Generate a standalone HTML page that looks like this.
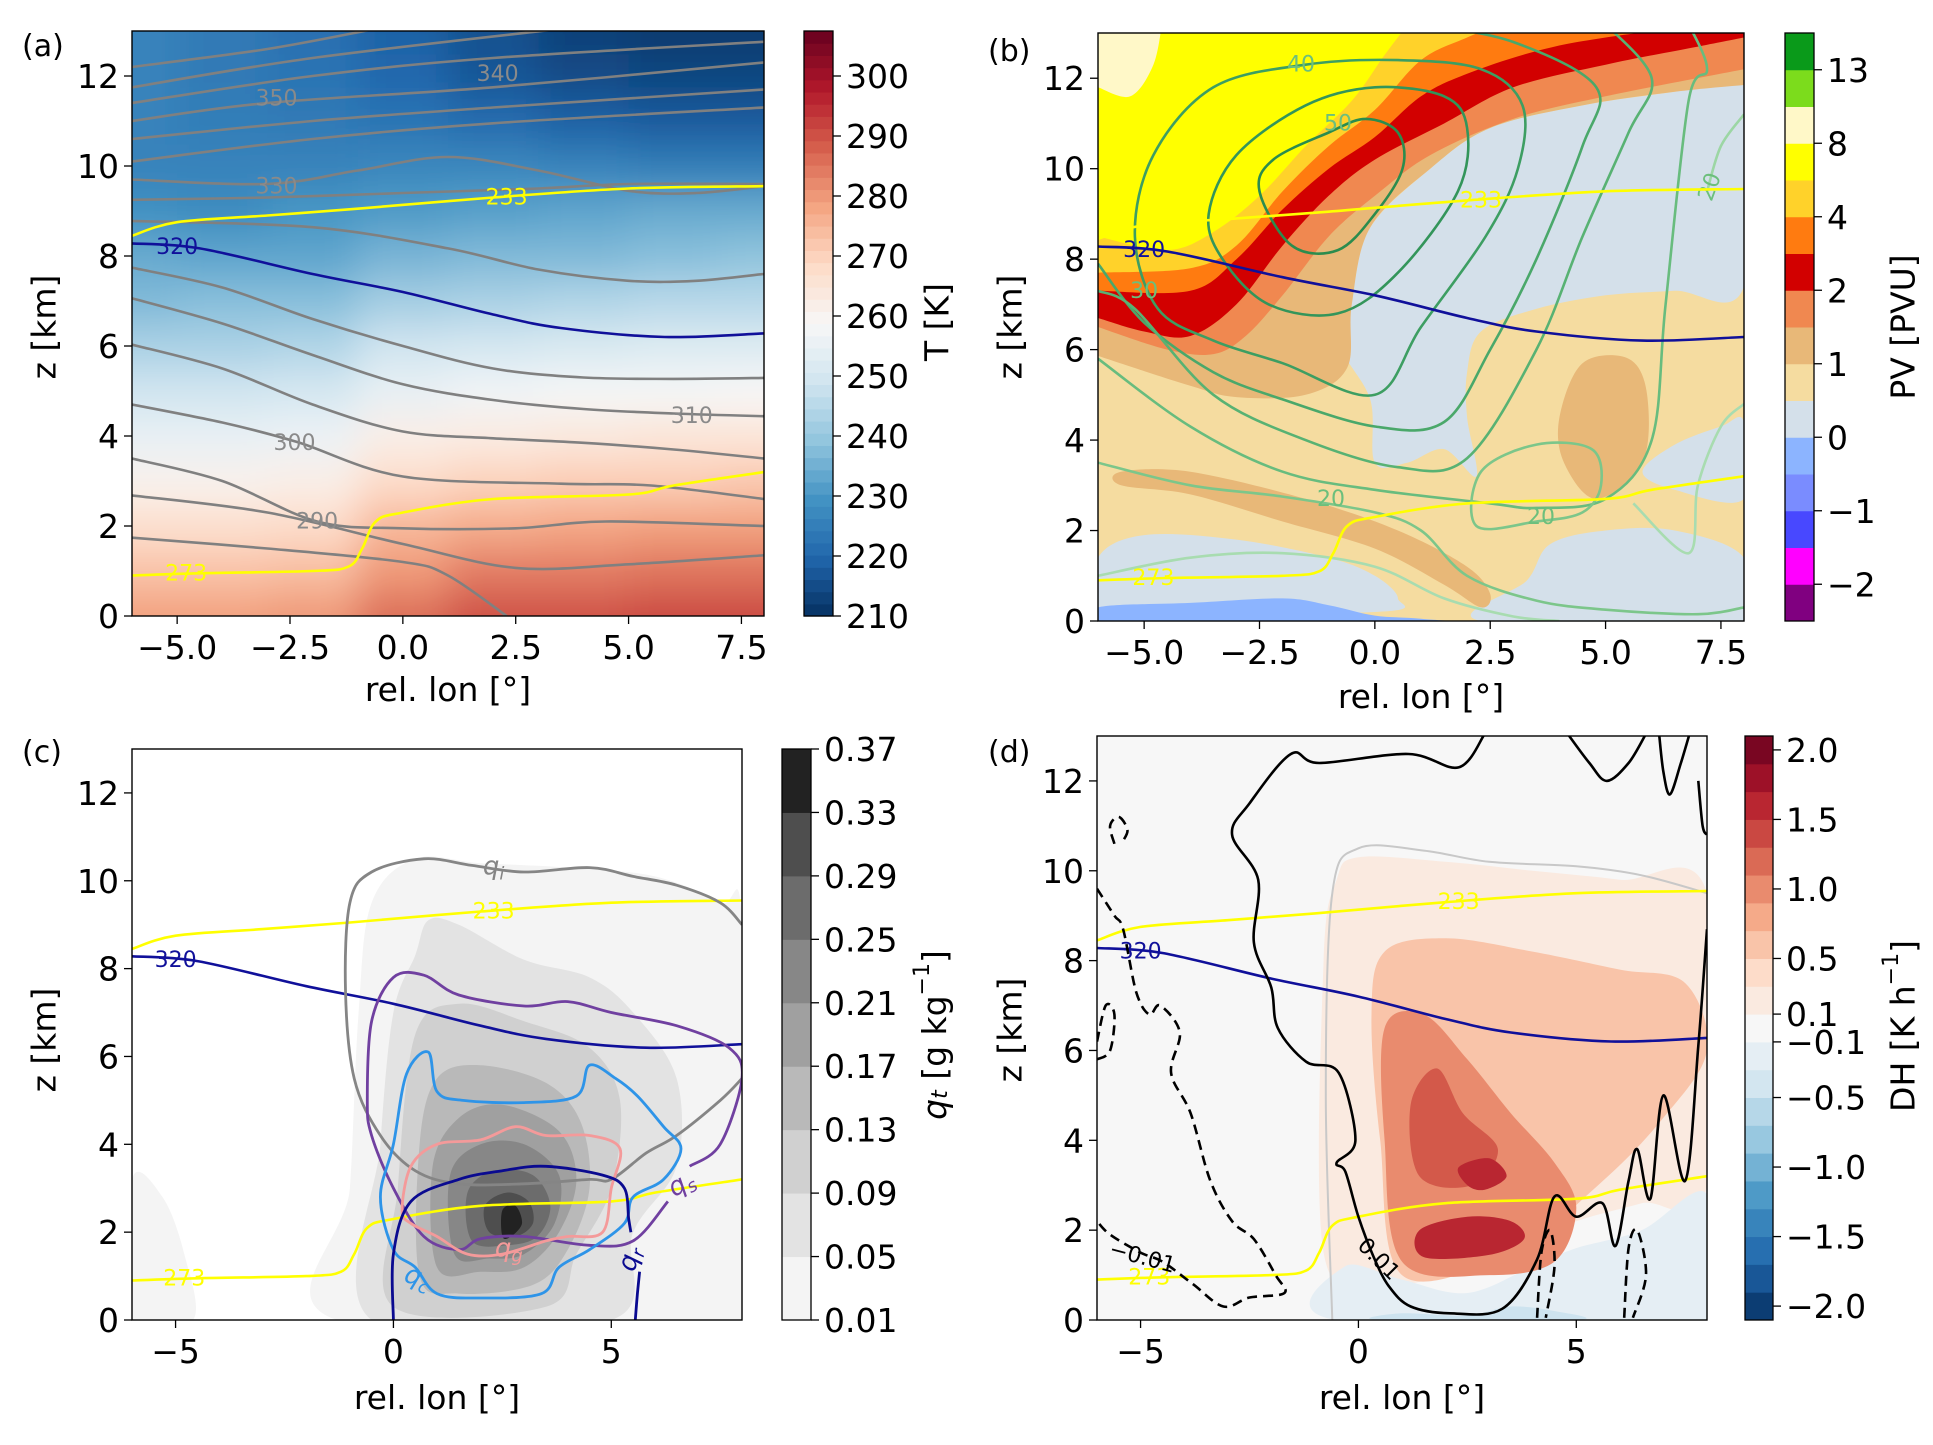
<!DOCTYPE html>
<html><head><meta charset="utf-8">
<style>
html,body{margin:0;padding:0;background:#fff;overflow:hidden;}
svg{display:block;font-family:"DejaVu Sans","Liberation Sans",sans-serif;}
</style></head>
<body>
<svg id="fig" width="1933" height="1445" viewBox="0 0 1933 1445" xmlns="http://www.w3.org/2000/svg">
<defs>
<filter id="blurA" x="-10%" y="-10%" width="120%" height="120%"><feGaussianBlur stdDeviation="18"/></filter>
<clipPath id="clipA"><rect x="132" y="31" width="632" height="585"/></clipPath>
<clipPath id="clipB"><rect x="1098" y="33" width="646" height="588"/></clipPath>
<clipPath id="clipC"><rect x="132" y="749" width="610" height="571"/></clipPath>
<clipPath id="clipD"><rect x="1097" y="736" width="610" height="584"/></clipPath>
</defs>
<rect x="0" y="0" width="1933" height="1445" fill="#fff"/>
<g id="root"></g>
<g font-family="DejaVu Sans, Liberation Sans, sans-serif" fill="#000">
<text x="22" y="56" font-size="30">(a)</text>
<text x="988" y="61" font-size="30">(b)</text>
<text x="22" y="762" font-size="30">(c)</text>
<text x="988" y="762" font-size="30">(d)</text>
<text x="448" y="701" font-size="33" text-anchor="middle">rel. lon [°]</text>
<text x="1421" y="708" font-size="33" text-anchor="middle">rel. lon [°]</text>
<text x="437" y="1409" font-size="33" text-anchor="middle">rel. lon [°]</text>
<text x="1402" y="1409" font-size="33" text-anchor="middle">rel. lon [°]</text>
<text transform="translate(44,327) rotate(-90)" font-size="33" text-anchor="middle" dominant-baseline="central">z [km]</text>
<text transform="translate(1010,327) rotate(-90)" font-size="33" text-anchor="middle" dominant-baseline="central">z [km]</text>
<text transform="translate(44,1040) rotate(-90)" font-size="33" text-anchor="middle" dominant-baseline="central">z [km]</text>
<text transform="translate(1010,1030) rotate(-90)" font-size="33" text-anchor="middle" dominant-baseline="central">z [km]</text>
<text transform="translate(937,322) rotate(-90)" font-size="33" text-anchor="middle" dominant-baseline="central">T [K]</text>
<text transform="translate(1903,327) rotate(-90)" font-size="33" text-anchor="middle" dominant-baseline="central">PV [PVU]</text>
<text transform="translate(934,1035) rotate(-90)" font-size="33" text-anchor="middle" dominant-baseline="central"><tspan font-style="italic">q</tspan><tspan font-size="22" font-style="italic" dy="6">t</tspan><tspan dy="-6"> [g kg</tspan><tspan font-size="22" dy="-12">−1</tspan><tspan dy="12">]</tspan></text>
<text transform="translate(1903,1026) rotate(-90)" font-size="33" text-anchor="middle" dominant-baseline="central">DH [K h<tspan font-size="22" dy="-12">−1</tspan><tspan dy="12">]</tspan></text>
</g>
</svg>
<script>
// ---------------- shared data ----------------
const iso233 = [[-6,8.45],[-5,8.75],[-3,8.9],[-1,9.05],[2,9.3],[5,9.5],[8,9.55]];
const iso273 = [[-6,0.9],[-4.5,0.95],[-2,1.0],[-1.2,1.1],[-0.9,1.5],[-0.6,2.1],[0,2.3],[2,2.6],[5,2.7],[6,2.9],[8,3.2]];
const theta320 = [[-6,8.28],[-4.5,8.17],[-2,7.6],[0,7.2],[2,6.7],[3.5,6.4],[5.8,6.2],[8,6.28]];

// ---------------- panel a data ----------------
const tX = [-6,-4,-2,0,2,4,6,8];
const tZ = [0,1,2,3,4,5,6,7,8,9,10,11,12,13];
const tempGrid = [
 [279,279,280,286,290,290,291,291],
 [273,273,274,280,284,284,285,285],
 [267,267,268,275,277,278,279,279],
 [261,261,262,268,270,271,271,272],
 [255,255,256,262,263,264,265,265],
 [249,249,250,255,257,258,258,259],
 [243,243,244,249,250,251,252,252],
 [237,238,238,242,243,244,245,245],
 [234,233,233,236,237,237,238,239],
 [229,228,230,231,232,233,234,234],
 [226,226,226,227,227,226,225,225],
 [226,225,224,223,221,219,218,218],
 [226,224,223,220,217,215,214,214],
 [226,224,222,219,216,213,212,212]];
const thetaLines = [
 [[-6,12.2],[-3,12.6],[-0.6,13.05]],
 [[-6,11.75],[-2,12.4],[3.5,13.05]],
 [[-6,11.4],[-2,12.0],[2,12.4],[8,12.76]],
 [[-6,11.0],[-3,11.4],[2,11.75],[8,12.3]],
 [[-6,10.6],[-2,11.0],[2,11.3],[8,11.7]],
 [[-6,10.1],[-2,10.6],[2,10.95],[8,11.3]],
 [[-6,9.7],[-3,9.6],[-1,9.9],[1,10.2],[3,9.9],[5,9.45],[6.5,9.4],[8,9.55]],
 [[-6,9.25],[-3,9.3],[0,9.4],[3,9.5],[5,9.6],[8,9.6]],
 [[-6,8.78],[-2,8.64],[1,8.17],[3,7.7],[5,7.45],[6.5,7.45],[8,7.6]],
 [[-6,7.74],[-4,7.3],[-2,6.6],[0,6.0],[2,5.5],[4,5.3],[6,5.27],[8,5.29]],
 [[-6,7.06],[-4,6.5],[-2,5.8],[0,5.15],[2,4.8],[4,4.6],[6,4.5],[8,4.44]],
 [[-6,6.03],[-4,5.5],[-2,4.7],[0,4.1],[2,3.95],[4,3.85],[6,3.7],[8,3.5]],
 [[-6,4.7],[-4,4.3],[-2.35,3.87],[0,3.1],[3.5,2.94],[5.5,2.9],[8,2.6]],
 [[-6,3.5],[-4,3.0],[-1.9,2.1],[0,1.95],[2.5,1.95],[4.5,2.1],[8,2.0]],
 [[-6,2.68],[-3,2.3],[0,1.6],[2.5,1.07],[5,1.15],[8,1.35]],
 [[-6,1.74],[-3,1.5],[0,1.2],[1,0.9],[2.3,0]]];
const thetaLabelText = ['350','340','330','310','300','290'];
const thetaLabelPos = [[-2.8,11.5],[2.1,12.05],[-2.8,9.55],[6.4,4.45],[-2.4,3.85],[-1.9,2.1]];

// ---------------- panel b data ----------------
const pvColors = ['#800080','#ff00ff','#4848ff','#7a8cff','#8cb4ff','#d4e0ea','#f5dca0','#e8b878','#f08850','#d20000','#ff7b10','#ffd22a','#ffff00','#fff8c8','#7cdc1c','#0a9a1a'];
const pvTickLabels = ['−2','−1','0','1','2','4','8','13'];
const pvBands = [
 {c:'#e8b878', pts:[[-6,5.86],[-4,5.2],[-3,4.95],[-1.5,5.0],[-0.6,5.6],[-0.5,7.0],[-0.1,8.7],[1.2,10.0],[2.5,10.9],[4.5,11.4],[6.5,11.7],[8,11.85]]},
 {c:'#f08850', pts:[[-6,6.5],[-4.5,6.0],[-3.5,5.9],[-2.8,6.3],[-2,7.2],[-1,8.5],[0,9.4],[1.2,10.3],[3,11.1],[5,11.6],[8,12.2]]},
 {c:'#d20000', pts:[[-6,6.7],[-5,6.4],[-4,6.3],[-3,7.0],[-2,8.3],[-1,9.4],[0,10.2],[1.5,11.0],[3,11.8],[5,12.3],[7,12.7],[8,12.9]]},
 {c:'#ff7b10', pts:[[-6,7.3],[-4,7.3],[-3,8.0],[-2,9.1],[-1,10.0],[0,10.7],[1,11.6],[2,12.1],[3.5,12.6],[5,12.9],[8,13.3]]},
 {c:'#ffd22a', pts:[[-6,7.7],[-4,7.8],[-3,8.3],[-2,9.5],[-1,10.5],[0,11.3],[1,12.4],[2,12.9],[3,13.3]]},
 {c:'#ffff00', pts:[[-6,8.5],[-4.5,8.2],[-3.5,8.6],[-2.5,9.4],[-1.5,10.5],[-0.5,11.5],[0.2,12.5],[0.8,13.3]]},
 {c:'#fff8c8', pts:[[-6,11.8],[-5.3,11.6],[-4.8,12.3],[-4.6,13.3]]}];
const pvLowPolys = [
 {c:'#d4e0ea', pts:[[-0.5,7.2],[-0.8,6.2],[-0.1,4.9],[0,3.5],[0.7,3.5],[1.5,3.8],[2.2,3.2],[2.0,4.5],[2.0,5.5],[2.3,6.4],[3.5,6.9],[5,7.2],[6.5,7.3],[8,7.4],[8,11.9],[6.5,11.7],[4.5,11.4],[2.5,10.9],[1.2,10.0],[-0.1,8.7]]},
 {c:'#d4e0ea', pts:[[5.8,3.3],[6.5,3.9],[7.5,4.3],[8,4.4],[8,2.7],[6.5,2.9]]},
 {c:'#d4e0ea', pts:[[-6,0.2],[-6,1.4],[-5,1.9],[-3,1.8],[-1,1.4],[0,1.0],[0.5,0.5],[0,0.2]]},
 {c:'#d4e0ea', pts:[[2.3,0],[3.3,0.9],[3.8,1.7],[5,2.0],[6.5,2.0],[8,1.4],[8,0]]},
 {c:'#8cb4ff', pts:[[-6,-0.1],[-6,0.3],[-4,0.4],[-2,0.5],[-1,0.35],[0,0.12],[1,0.05],[2,-0.1]]},
 {c:'#e8b878', pts:[[-5.5,3.0],[-4,2.8],[-2,2.2],[0,1.6],[1.5,0.8],[2.3,0.3],[2.5,0.6],[2,1.2],[0.5,2.0],[-1.5,2.7],[-4,3.3],[-5.5,3.3]]},
 {c:'#e8b878', pts:[[4.0,4.5],[4.5,5.7],[5.5,5.8],[5.9,5.0],[5.8,3.5],[4.8,2.7],[4.1,3.5]]}];
const windLevels = [50,45,40,35,30,25,20,20,15,15,20];
const windColors = ['#2b8c4e','#33955a','#3d9e62','#4aa86a','#58b273','#68bc7e','#7cc68a','#7cc68a','#a8dcb0','#a8dcb0','#9cd6a4'];
const windClosed = [true,true,true,false,false,false,false,true,false,false,false];
const windLines = [
 [[-2.5,9.5],[-2.2,10.2],[-1.0,10.8],[-0.2,11.1],[0.5,10.8],[0.6,10.0],[0,9.0],[-0.8,8.2],[-1.8,8.3]],
 [[-3.6,9.0],[-3.0,10.3],[-1.5,11.4],[0,11.8],[1.5,11.6],[2,10.9],[1.8,9.5],[0.5,7.7],[-0.8,6.8],[-2.3,7.0],[-3.3,8.0]],
 [[-4.7,6.9],[-5.2,8.5],[-4.8,10.3],[-3.5,11.8],[-1.5,12.3],[0.5,12.4],[2.3,12.2],[3.2,11.4],[3.1,10.0],[2.4,8.5],[1.0,6.5],[0,5.0],[-2,5.7],[-3.5,6.2]],
 [[-6,7.9],[-5,6.6],[-3.5,5.5],[-2,4.9],[0,4.3],[1.5,4.4],[2.5,6],[3.5,8],[4.5,10.5],[4.8,11.8],[3,12.8],[1,13.2]],
 [[-6,7.3],[-5.2,6.9],[-3.5,5.0],[-1.5,4.0],[0.5,3.4],[2,3.6],[3.5,6],[4.5,8.5],[5.5,10.8],[6,12.0],[5,13.2]],
 [[-6,5.8],[-4,4.3],[-2,3.3],[0,2.9],[2.5,2.6],[3.5,2.5],[5,2.7],[6,4],[6.3,7],[6.8,11.5],[7.2,12.2],[6.8,13.2]],
 [[-6,3.5],[-4,3.0],[-2,2.75],[0,2.4],[1,2.0],[2,1.0],[3.5,0.45],[5,0.25],[7,0.15],[8,0.3]],
 [[2.2,2.1],[2.3,3.3],[3.5,3.9],[4.7,3.8],[4.9,3.0],[4.5,2.4],[3.5,2.2]],
 [[-6,1.0],[-4,1.4],[-2,1.5],[0,1.2],[1.5,0.5],[3,0.1],[4,0]],
 [[5.6,2.6],[6.8,1.5],[7,3],[7.5,4.3],[8,4.8]],
 [[7.2,9.5],[7.5,10.5],[8,11.2]]];
const windLabelText = ['50','40','30','20','20','20'];
const windLabelPos = [[-0.8,11.0],[-1.6,12.3],[-5.0,7.3],[-0.95,2.7],[3.6,2.3],[7.4,9.7]];

// ---------------- panel c data ----------------
const qtLevels = ['0.01','0.05','0.09','0.13','0.17','0.21','0.25','0.29','0.33','0.37'];
const qtColors = ['#f4f4f4','#e3e3e3','#d0d0d0','#b9b9b9','#a0a0a0','#878787','#6c6c6c','#4e4e4e','#222222'];
const qtPolys = [
 [[-1.3,0],[-1.0,3],[-0.8,7],[-0.5,9.5],[0.5,10.5],[2,10.4],[4,10.3],[6,10.1],[7.5,9.5],[8,9],[8,0]],
 [[-0.5,0],[-0.3,4],[0,7],[0.5,8.3],[0.8,9.1],[1.5,9.0],[3,8.2],[4.5,7.8],[5.5,7.0],[6.5,5.5],[6.5,3.5],[5.5,2],[5,0]],
 [[0,0.3],[0.1,3],[0.5,6.5],[1.5,7.2],[3,6.8],[4.5,6.2],[5.2,5],[5,3],[4.2,1.5],[3.5,0.3]],
 [[0.6,1.0],[0.6,4],[1.0,5.5],[2,5.8],[3.5,5.4],[4.3,4.5],[4.5,3],[4,1.6],[3.2,0.8],[1.5,0.6]],
 [[1,1.2],[0.9,3.5],[1.5,4.6],[2.5,4.9],[3.8,4.3],[4.2,3.2],[3.8,2],[3,1.2],[2,1.1]],
 [[1.4,1.5],[1.3,3.3],[2,4.0],[3,4.0],[3.8,3.3],[3.7,2.2],[3,1.5],[2.2,1.4]],
 [[1.8,1.8],[1.7,2.9],[2.3,3.4],[3.2,3.3],[3.6,2.6],[3.3,1.9],[2.6,1.7]],
 [[2.2,2.0],[2.1,2.6],[2.6,2.9],[3.1,2.7],[3.2,2.2],[2.8,1.9]],
 [[2.5,1.9],[2.5,2.5],[2.8,2.6],[2.95,2.2],[2.7,1.9]]];
const qtFaint = [[-6,0],[-6,3.2],[-5.3,2.8],[-4.8,1.5],[-4.6,0]];
const hydroNames = ['i','s','c','g','r'];
const hydroColors = ['#858585','#7040a0','#2e94e8','#f49a9a','#0a0a90'];
const hydroClosed = [false,false,true,true,false];
const hydroLines = [
 [[8,5.5],[7.5,5.0],[6.5,4.2],[5.8,3.8],[5,3.2],[4.5,3.2],[3,3.1],[1.5,3.1],[0.5,3.4],[-0.3,4.2],[-0.9,5.5],[-1.1,7.5],[-1.0,9.5],[-0.5,10.2],[0.7,10.5],[1.8,10.35],[3,10.2],[4.5,10.3],[5.5,10.1],[6.5,9.9],[7.5,9.5],[8,9.0]],
 [[6.8,3.5],[7.5,4.0],[8,5.5],[7.7,6.2],[6.5,6.7],[5,7.0],[4,7.25],[3,7.15],[1.5,7.4],[0.7,7.85],[0,7.8],[-0.5,6.8],[-0.6,5],[-0.5,4.2],[0,3.0],[0.7,1.9],[1.5,1.6],[2,1.85],[3,1.9],[4.5,1.7],[5.5,1.8],[6.3,2.7]],
 [[0,1.6],[-0.3,2.8],[0,4],[0.3,5.6],[0.8,6.1],[1,5.2],[1.6,5.0],[3,4.95],[4.2,5.1],[4.5,5.8],[5.1,5.5],[5.6,5.1],[6.2,4.4],[6.6,3.9],[6.2,3.2],[5.5,2.8],[5.3,2.2],[4.5,1.6],[3.8,1.2],[3.4,0.6],[2,0.5],[1.0,0.6],[0.5,1.2]],
 [[0.2,2.5],[0.4,3.5],[1.0,4.0],[2,4.1],[2.8,4.4],[3.5,4.2],[4.5,4.2],[5.2,3.9],[5.0,3.0],[4.8,2.0],[4.0,1.9],[3.5,1.8],[2.5,1.5],[1.7,1.5],[1.0,1.9],[0.4,2.2]],
 [[0,0],[0,1.5],[0.4,2.7],[1.5,3.2],[2.5,3.4],[3.5,3.5],[4.8,3.3],[5.3,3.0],[5.4,2.3],[5.45,2.0]]];
const hydroLabelPos = [[2.3,10.3],[6.7,3.1],[0.5,0.95],[2.65,1.6],[5.6,1.5]];
const hydroRot = [0,-30,20,0,-75];

// ---------------- panel d data ----------------
const dhTicks = [2.0,1.5,1.0,0.5,0.1,-0.1,-0.5,-1.0,-1.5,-2.0];
const dhTickLabels = ['2.0','1.5','1.0','0.5','0.1','−0.1','−0.5','−1.0','−1.5','−2.0'];
const dhPolyVals = [0.2,-0.2,-0.45,0.6,1.0,1.3,1.6,1.6];
const dhPolys = [
 [[-0.8,1.5],[-0.8,8],[-0.5,9.8],[0,10.3],[2,10.2],[4,10.0],[6,9.8],[8,9.5],[8,3.0],[6.5,2.6],[5,2.2],[3.5,1.6],[2,1.0],[0.5,0.8]],
 [[-0.5,0],[-0.3,1.2],[1,0.9],[2.5,0.6],[4,1.2],[5,1.6],[6.5,2.0],[8,2.8],[8,0]],
 [[0.5,0],[1,0.15],[2.5,0.1],[3.5,0.3],[4.5,0.2],[5,0]],
 [[0.5,4],[0.3,6.8],[0.6,8.2],[2,8.5],[4,8.2],[6,7.8],[7.5,7.5],[8,6],[7,4.5],[5.5,3],[3.5,1.5],[1,1.0]],
 [[1,1.3],[0.6,4],[0.6,6.5],[1.5,6.8],[2.5,5.8],[3.5,4.6],[4.5,3.5],[5,2.5],[4.5,1.3],[3,1.0]],
 [[1.4,3.2],[1.2,4.8],[1.8,5.6],[2.4,4.6],[3.2,3.8],[2.6,3.0]],
 [[1.5,1.4],[1.4,2.0],[2.5,2.3],[3.5,2.2],[3.8,1.8],[3,1.45]],
 [[2.5,3.0],[2.3,3.4],[3,3.6],[3.4,3.2],[2.9,2.9]]];
const dhSolid = [
 [[2.9,13.05],[2.3,12.3],[1.15,12.6],[-0.9,12.4],[-1.55,12.6],[-2.5,11.5],[-2.9,10.8],[-2.3,9.8],[-2.4,8.4],[-2.0,7.4],[-1.85,6.5],[-1.2,5.75],[-0.45,5.5],[-0.07,4.0],[-0.5,3.5],[-0.3,3.3],[0,2.3],[0.35,1.4],[0.7,0.75],[1.2,0.3],[2.1,0.15],[3.3,0.25],[4.1,1.35],[4.5,2.75],[5.0,2.3],[5.6,2.6],[5.9,1.65],[6.2,3.1],[6.4,3.8],[6.7,2.7],[7.0,5.0],[7.5,3.1],[7.8,6.1],[8.0,8.7]],
 [[4.8,13.05],[5.3,12.4],[5.7,12.0],[6.2,12.4],[6.6,13.05]],
 [[6.9,13.05],[7.0,12.2],[7.15,11.7],[7.4,12.4],[7.6,13.05]],
 [[7.8,12.0],[7.9,11.0],[8.0,10.8]]];
const dhDashed = [
 [[-6,9.6],[-5.6,9.0],[-5.4,8.7],[-5.1,7.3],[-4.8,6.8],[-4.55,7.0],[-4.1,6.4],[-4.3,5.5],[-3.85,4.6],[-3.4,3.1],[-2.9,2.2],[-2.4,1.8],[-1.9,1.0],[-1.7,0.6],[-2.5,0.5],[-3.1,0.3],[-3.8,0.8],[-4.5,1.3],[-5.0,1.5],[-5.7,1.9],[-6,2.2]],
 [[-5.6,10.6],[-5.7,11.0],[-5.5,11.2],[-5.3,10.9],[-5.45,10.6]],
 [[-6,6.2],[-5.8,7.0],[-5.6,6.8],[-5.7,6.0],[-6,5.8]],
 [[4.1,0.05],[4.2,1.5],[4.4,2.0],[4.5,1.2],[4.3,0.05]],
 [[6.1,0.05],[6.2,1.6],[6.4,2.0],[6.6,1.0],[6.3,0.05]]];
const dhGreyOutline = [[-0.6,0],[-0.75,5],[-0.6,9.5],[0,10.5],[1.5,10.45],[3,10.2],[5,10.1],[6.5,9.9],[8,9.5]];

// ---------------- layout ----------------
const P = {
 a:{l:132,r:764,t:31,b:616,xmin:-6,xmax:8,zmax:13},
 b:{l:1098,r:1744,t:33,b:621,xmin:-6,xmax:8,zmax:13},
 c:{l:132,r:742,t:749,b:1320,xmin:-6,xmax:8,zmax:13},
 d:{l:1097,r:1707,t:736,b:1320,xmin:-6,xmax:8,zmax:13}};
const CB = {
 a:{l:804,r:833,t:31,b:616},
 b:{l:1785,r:1814,t:33,b:621},
 c:{l:782,r:811,t:749,b:1320},
 d:{l:1745,r:1773,t:736,b:1320}};
const yTicks = [0,2,4,6,8,10,12];
const yTickLabels = ['0','2','4','6','8','10','12'];
const xTicksAB = [-5,-2.5,0,2.5,5,7.5];
const xTickLabelsAB = ['−5.0','−2.5','0.0','2.5','5.0','7.5'];
const xTicksCD = [-5,0,5];
const xTickLabelsCD = ['−5','0','5'];
const tTicks = [210,220,230,240,250,260,270,280,290,300];
const FS = 33;

const NS='http://www.w3.org/2000/svg';
const root=document.getElementById('root');
function mk(tag, attrs, parent){const e=document.createElementNS(NS,tag);for(const k in attrs)e.setAttribute(k,attrs[k]);(parent||root).appendChild(e);return e;}
function axis(p){return {X:x=>p.l+(x-p.xmin)/(p.xmax-p.xmin)*(p.r-p.l), Z:z=>p.b-z/p.zmax*(p.b-p.t)};}
function smooth(px, closed){
 const n=px.length; if(n<2) return '';
 let d='M'+px[0][0].toFixed(1)+' '+px[0][1].toFixed(1);
 const m = closed? n : n-1;
 for(let i=0;i<m;i++){
  const p0=closed?px[(i-1+n)%n]:px[Math.max(i-1,0)];
  const p1=px[i], p2=px[(i+1)%n];
  const p3=closed?px[(i+2)%n]:px[Math.min(i+2,n-1)];
  const c1=[p1[0]+(p2[0]-p0[0])/6,p1[1]+(p2[1]-p0[1])/6];
  const c2=[p2[0]-(p3[0]-p1[0])/6,p2[1]-(p3[1]-p1[1])/6];
  d+='C'+c1[0].toFixed(1)+' '+c1[1].toFixed(1)+' '+c2[0].toFixed(1)+' '+c2[1].toFixed(1)+' '+p2[0].toFixed(1)+' '+p2[1].toFixed(1);
 }
 return d+(closed?'Z':'');
}
function toPx(pts, ax){return pts.map(p=>[ax.X(p[0]),ax.Z(p[1])]);}
function txt(parent,x,y,s,size,anchor,color,rot){
 const t=mk('text',{transform:`translate(${x},${y}) rotate(${rot||0})`,'font-size':size,'text-anchor':anchor||'start',fill:color||'#000'},parent);
 t.textContent=s; return t;
}
const RB=[[5,48,97],[33,102,172],[67,147,195],[146,197,222],[209,229,240],[247,247,247],[253,219,199],[244,165,130],[214,96,77],[178,24,43],[103,0,31]];
function rdbu(t){t=Math.max(0,Math.min(1,t));const f=t*10,i=Math.min(9,Math.floor(f)),u=f-i;const a=RB[i],b=RB[i+1];
 return 'rgb('+[0,1,2].map(k=>Math.round(a[k]+(b[k]-a[k])*u)).join(',')+')';}

function frame(p,name){
 const r=mk('rect',{x:p.l,y:p.t,width:p.r-p.l,height:p.b-p.t,fill:'none',stroke:'#000','stroke-width':1.4});
 
 
}
function ticks(p, xt, xl, key){
 const ax=axis(p);
 const g=mk('g',{});
 
 
 yTicks.forEach((v,i)=>{
  const y=ax.Z(v);
  const l=mk('line',{x1:p.l-8,x2:p.l,y1:y,y2:y,stroke:'#000','stroke-width':1.3},g);
  
  
  const t=txt(g,p.l-13,y+12,yTickLabels[i],FS,'end');
  
  
 });
 xt.forEach((v,i)=>{
  const x=ax.X(v);
  const l=mk('line',{x1:x,x2:x,y1:p.b,y2:p.b+8,stroke:'#000','stroke-width':1.3},g);
  
  
  const t=txt(g,x,p.b+43,xl[i],FS,'middle');
  
  
 });
}
function line(g,pts,ax,color,w,closed,name,dash){
 const e=mk('path',{d:smooth(toPx(pts,ax),closed),fill:'none',stroke:color,'stroke-width':w,'stroke-linejoin':'round','stroke-dasharray':dash||'none'},g);
 
 
 return e;
}
function poly(g,pts,ax,color,name){
 const e=mk('path',{d:smooth(toPx(pts,ax),true),fill:color,stroke:'none'},g);
 
 
 return e;
}
function label(g,s,pos,ax,color,size,rot){
 const t=txt(g,ax.X(pos[0]),ax.Z(pos[1])+7,s,size||22,'middle',color,rot||0);
 
 
 return t;
}
function commonIso(g,ax){
 line(g,iso233,ax,'#ffff00',2.6,false,'isotherm-233');
 line(g,iso273,ax,'#ffff00',2.6,false,'isotherm-273');
 line(g,theta320,ax,'#10109a',2.6,false,'isentrope-320');
 label(g,'233',[2.3,9.3],ax,'#ffff00');
 label(g,'273',[-4.8,0.95],ax,'#ffff00');
 label(g,'320',[-5.0,8.2],ax,'#10109a');
}

// ================= panel a =================
(function(){
 const p=P.a, ax=axis(p);
 const g=mk('g',{'clip-path':'url(#clipA)'});
 
 
 const f=mk('g',{filter:'url(#blurA)'},g);
 
 
 tZ.forEach((z,j)=>tX.forEach((x,i)=>{
  let x0=ax.X(x-1),x1=ax.X(x+1),y0=ax.Z(z+0.5),y1=ax.Z(z-0.5);
  if(i===0)x0-=80; if(i===tX.length-1)x1+=80; if(j===0)y1+=80; if(j===tZ.length-1)y0-=80;
  const r=mk('rect',{x:x0,y:y0,width:x1-x0+1,height:y1-y0+1,fill:rdbu((tempGrid[j][i]-210)/97.5)},f);
  
  
 }));
 thetaLines.forEach(l=>line(g,l,ax,'#808080',2.6,false,'theta-contour'));
 thetaLabelText.forEach((s,i)=>label(g,s,thetaLabelPos[i],ax,'#8a8a8a'));
 commonIso(g,ax);
 frame(p,'panel-a-frame');
 ticks(p,xTicksAB,xTickLabelsAB,'a');
 const cb=CB.a; const n=48;
 const cg=mk('g',{});
 
 
 for(let i=0;i<n;i++){
  const h=(cb.b-cb.t)/n;
  const r=mk('rect',{x:cb.l,y:cb.b-(i+1)*h,width:cb.r-cb.l,height:h+0.6,fill:rdbu((i+0.5)/n)},cg);
  
  
 }
 const o=mk('rect',{x:cb.l,y:cb.t,width:cb.r-cb.l,height:cb.b-cb.t,fill:'none',stroke:'#000','stroke-width':1.3},cg);
 
 
 tTicks.forEach(v=>{
  const y=cb.b-(v-210)/97.5*(cb.b-cb.t);
  const l=mk('line',{x1:cb.r,x2:cb.r+8,y1:y,y2:y,stroke:'#000','stroke-width':1.3},cg);
  
  
  const t=txt(cg,cb.r+13,y+12,String(v),FS,'start');
  
  
 });
})();

// ================= panel b =================
(function(){
 const p=P.b, ax=axis(p);
 const g=mk('g',{'clip-path':'url(#clipB)'});
 
 
 const bg=mk('rect',{x:p.l,y:p.t,width:p.r-p.l,height:p.b-p.t,fill:'#f5dca0'},g);
 
 
 pvLowPolys.forEach(q=>poly(g,q.pts,ax,q.c,'pv-region'));
 pvBands.forEach(q=>{
  const px=toPx(q.pts,ax);
  const last=q.pts[q.pts.length-1], first=q.pts[0];
  let d=smooth(px,false);
  const ex=last[0]>=8?8.6:last[0];
  d+='L'+ax.X(ex)+' '+ax.Z(last[1])+'L'+ax.X(ex)+' '+ax.Z(13.6)+'L'+ax.X(-6.6)+' '+ax.Z(13.6)+'L'+ax.X(-6.6)+' '+ax.Z(first[1])+'Z';
  const e=mk('path',{d:d,fill:q.c},g);
  
  
 });
 windLines.forEach((l,i)=>line(g,l,ax,windColors[i],2.6,windClosed[i],'wind-contour-'+windLevels[i]));
 windLabelText.forEach((s,i)=>label(g,s,windLabelPos[i],ax,'#6cbf7c',22,i===5?-70:0));
 commonIso(g,ax);
 frame(p,'panel-b-frame');
 ticks(p,xTicksAB,xTickLabelsAB,'b');
 const cb=CB.b, n=pvColors.length, h=(cb.b-cb.t)/n;
 const cg=mk('g',{});
 
 
 pvColors.forEach((c,i)=>{
  const r=mk('rect',{x:cb.l,y:cb.b-(i+1)*h,width:cb.r-cb.l,height:h+0.5,fill:c},cg);
  
  
 });
 const o=mk('rect',{x:cb.l,y:cb.t,width:cb.r-cb.l,height:cb.b-cb.t,fill:'none',stroke:'#000','stroke-width':1.3},cg);
 
 
 pvTickLabels.forEach((s,i)=>{
  const y=cb.b-(2*i+1)*h;
  const l=mk('line',{x1:cb.r,x2:cb.r+8,y1:y,y2:y,stroke:'#000','stroke-width':1.3},cg);
  
  
  const t=txt(cg,cb.r+13,y+12,s,FS,'start');
  
  
 });
})();

// ================= panel c =================
(function(){
 const p=P.c, ax=axis(p);
 const g=mk('g',{'clip-path':'url(#clipC)'});
 
 
 poly(g,qtFaint,ax,'#f4f4f4','qt-region');
 qtPolys.forEach((q,i)=>poly(g,q,ax,qtColors[i],'qt-level-'+qtLevels[i]));
 commonIso(g,ax);
 hydroLines.forEach((l,i)=>line(g,l,ax,hydroColors[i],2.8,hydroClosed[i],'hydrometeor-contour-q'+hydroNames[i]));
 line(g,[[5.55,0.0],[5.6,0.6],[5.65,1.1]],ax,'#0a0a90',2.8,false,'hydrometeor-contour-qr-lower');
 hydroNames.forEach((s,i)=>{
  const pos=hydroLabelPos[i];
  const t=mk('text',{transform:`translate(${ax.X(pos[0])},${ax.Z(pos[1])+7}) rotate(${hydroRot[i]})`,'font-size':26,'text-anchor':'middle',fill:hydroColors[i],'font-style':'italic'},g);
  
  
  const a=mk('tspan',{},t); a.textContent='q';
  const b=mk('tspan',{'font-size':18,dy:5},t); b.textContent=s;
 });
 frame(p,'panel-c-frame');
 ticks(p,xTicksCD,xTickLabelsCD,'c');
 const cb=CB.c, n=qtColors.length, h=(cb.b-cb.t)/n;
 const cg=mk('g',{});
 
 
 qtColors.forEach((c,i)=>{
  const r=mk('rect',{x:cb.l,y:cb.b-(i+1)*h,width:cb.r-cb.l,height:h+0.5,fill:c},cg);
  
  
 });
 const o=mk('rect',{x:cb.l,y:cb.t,width:cb.r-cb.l,height:cb.b-cb.t,fill:'none',stroke:'#000','stroke-width':1.3},cg);
 
 
 qtLevels.forEach((s,i)=>{
  const y=cb.b-i*h;
  const l=mk('line',{x1:cb.r,x2:cb.r+8,y1:y,y2:y,stroke:'#000','stroke-width':1.3},cg);
  
  
  const t=txt(cg,cb.r+13,y+12,s,FS,'start');
  
  
 });
})();

// ================= panel d =================
(function(){
 const p=P.d, ax=axis(p);
 const g=mk('g',{'clip-path':'url(#clipD)'});
 
 
 const bg=mk('rect',{x:p.l,y:p.t,width:p.r-p.l,height:p.b-p.t,fill:'#f7f7f7'},g);
 
 
 dhPolys.forEach((q,i)=>poly(g,q,ax,rdbu((dhPolyVals[i]+2.1)/4.2),'dh-region'));
 line(g,dhGreyOutline,ax,'#c8c8c8',2,false,'cloud-outline');
 commonIso(g,ax);
 dhSolid.forEach(l=>line(g,l,ax,'#000',2.6,false,'w-contour-positive'));
 dhDashed.forEach(l=>line(g,l,ax,'#000',2.6,false,'w-contour-negative','10 6'));
 label(g,'−0.01',[-5.0,1.4],ax,'#000',22,15);
 label(g,'0.01',[0.35,1.4],ax,'#000',22,45);
 frame(p,'panel-d-frame');
 ticks(p,xTicksCD,xTickLabelsCD,'d');
 const cb=CB.d, n=21;
 const cg=mk('g',{});
 
 
 const V=v=>cb.b-(v+2.1)/4.2*(cb.b-cb.t);
 for(let i=0;i<n;i++){
  const v0=-2.1+i*0.2, y0=V(v0+0.2), y1=V(v0);
  const r=mk('rect',{x:cb.l,y:y0,width:cb.r-cb.l,height:y1-y0+0.5,fill:rdbu((v0+0.1+2.1)/4.2)},cg);
  
  
 }
 const o=mk('rect',{x:cb.l,y:cb.t,width:cb.r-cb.l,height:cb.b-cb.t,fill:'none',stroke:'#000','stroke-width':1.3},cg);
 
 
 dhTicks.forEach((v,i)=>{
  const y=V(v);
  const l=mk('line',{x1:cb.r,x2:cb.r+8,y1:y,y2:y,stroke:'#000','stroke-width':1.3},cg);
  
  
  const t=txt(cg,cb.r+13,y+12,dhTickLabels[i],FS,'start');
  
  
 });
})();
</script>
</body></html>
